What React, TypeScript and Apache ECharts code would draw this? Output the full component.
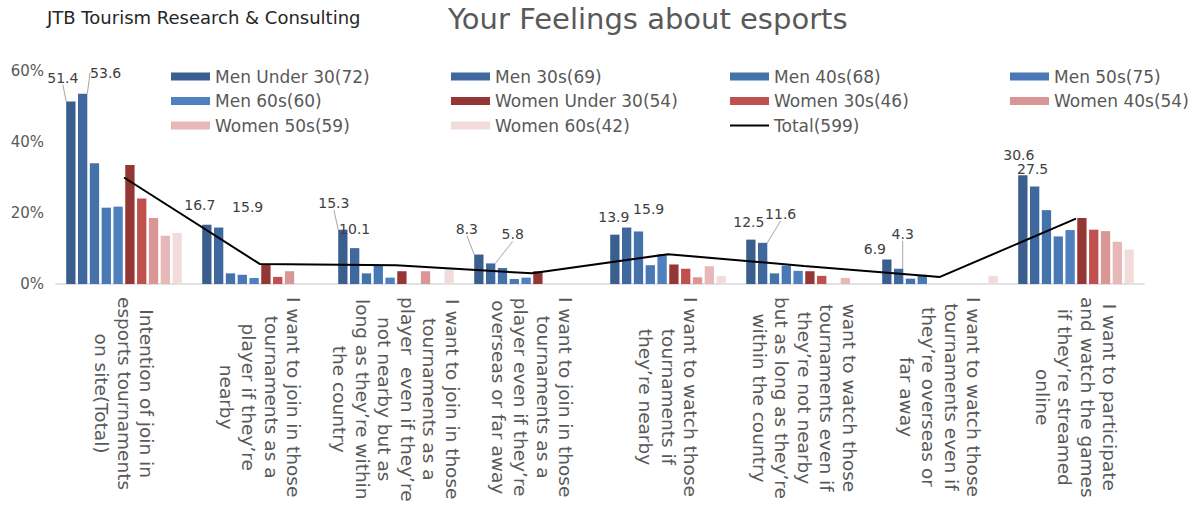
import React, { useEffect, useRef } from "react";
import * as echarts from "echarts";

const FONT = "DejaVu Sans";

const categories = [
  "Intention of join in\nesports tournaments\non site(Total)",
  "I want to join in those\ntournaments as a\nplayer if they’re\nnearby",
  "I want to join in those\ntournaments as a\nplayer  even if they’re\nnot nearby but as\nlong as they’re within\nthe country",
  "I want to join in those\ntournaments as a\nplayer even if they’re\noverseas or far away",
  "I want to watch those\ntournaments if\nthey’re nearby",
  "want to watch those\ntournaments even if\nthey’re not nearby\nbut as long as they’re\nwithin the country",
  "I want to watch those\ntournaments even if\nthey’re overseas or\nfar away",
  "I want to participate\nand watch the games\nif they’re streamed\nonline",
];

const seriesNames = [
  "Men Under 30(72)",
  "Men 30s(69)",
  "Men 40s(68)",
  "Men 50s(75)",
  "Men 60s(60)",
  "Women Under 30(54)",
  "Women 30s(46)",
  "Women 40s(54)",
  "Women 50s(59)",
  "Women 60s(42)",
];
const totalName = "Total(599)";

// Percent of each respondent group, one value per category
const menUnder30 = [51.4, 16.7, 15.3, 8.3, 13.9, 12.5, 6.9, 30.6];
const men30s = [53.6, 15.9, 10.1, 5.8, 15.9, 11.6, 4.3, 27.5];
const men40s = [34.0, 3.0, 3.0, 4.5, 14.8, 3.0, 1.5, 20.8];
const men50s = [21.5, 2.6, 5.2, 1.4, 5.3, 5.2, 2.6, 13.4];
const men60s = [21.8, 1.7, 1.8, 1.8, 8.4, 3.7, 0, 15.2];
const womenUnder30 = [33.5, 5.5, 3.6, 3.6, 5.5, 3.6, 0, 18.6];
const women30s = [24.1, 2.0, 0, 0, 4.3, 2.3, 0, 15.3];
const women40s = [18.6, 3.6, 3.6, 0, 1.9, 0, 0, 14.9];
const women50s = [13.6, 0, 0, 0, 5.0, 1.7, 0, 11.9];
const women60s = [14.4, 0, 4.6, 0, 2.3, 0, 2.3, 9.7];
const totalValues = [30.0, 5.6, 5.3, 3.0, 8.4, 5.1, 2.0, 18.4];

const yMax = 60;
const yStep = 20;

const barValues = [
  menUnder30,
  men30s,
  men40s,
  men50s,
  men60s,
  womenUnder30,
  women30s,
  women40s,
  women50s,
  women60s,
];

const barColors = [
  "#3a5f8e",
  "#3f689f",
  "#4472ab",
  "#4879b6",
  "#4e81bd",
  "#943634",
  "#c0504d",
  "#d99694",
  "#e6b9b8",
  "#f2dcdb",
];

// Value labels are drawn for the two youngest men's groups only;
// each label is nudged (dx, dy) and some get a grey leader line.
const labelNudge = [
  [[-8, -12], [-7, -8], [-9, -15], [-12, -14], [-1, -6], [-2, -6], [-12, 1], [-4, -8]],
  [[23, -9], [29, -9], [0, -7], [22, -17], [22, -7], [18, -17], [4, -23], [-2, -5]],
];
const leaderLine = [
  [1, 0, 1, 1, 0, 0, 0, 0],
  [1, 0, 0, 1, 0, 1, 1, 0],
];

const legendColumns = [171, 451, 730, 1010];

function buildOption() {
  const bars = barValues.map((vals, s) => {
    const labelled = s < 2;
    return {
      type: "bar",
      name: seriesNames[s],
      barGap: "27%",
      barCategoryGap: "15%",
      itemStyle: { color: barColors[s] },
      data: vals.map((v, i) =>
        labelled ? { value: v, labelLine: { show: !!leaderLine[s][i] } } : v
      ),
      label: labelled
        ? {
            show: true,
            position: "top",
            distance: 5,
            color: "#404040",
            fontSize: 14,
            fontFamily: FONT,
            formatter: (p: any) => Number(p.value).toFixed(1),
          }
        : { show: false },
      labelLayout: labelled
        ? (p: any) => ({
            dx: labelNudge[s][p.dataIndex][0],
            dy: labelNudge[s][p.dataIndex][1],
          })
        : undefined,
      labelLine: labelled
        ? { show: false, lineStyle: { color: "#a6a6a6", width: 1 } }
        : undefined,
      z: 2,
    };
  });

  const legendOrder = [...seriesNames, totalName];
  const legends = legendColumns.map((left, c) => ({
    orient: "vertical",
    left,
    top: 68,
    padding: 0,
    itemWidth: 39,
    itemHeight: 8,
    itemGap: 7.5,
    symbolKeepAspect: true,
    selectedMode: false,
    textStyle: { fontSize: 17, color: "#595959", fontFamily: FONT },
    data: legendOrder
      .filter((_, i) => i % 4 === c)
      .map((name) =>
        name === totalName
          ? { name, icon: "path://M0,0H39V2H0Z" }
          : { name, icon: "rect" }
      ),
  }));

  return {
    animation: false,
    backgroundColor: "#ffffff",
    title: [
      {
        text: "JTB Tourism Research & Consulting",
        left: 47,
        top: 8,
        padding: 0,
        textStyle: { fontSize: 18, fontWeight: "normal", color: "#262626", fontFamily: FONT },
      },
      {
        text: "Your Feelings about esports",
        left: 448,
        top: 4,
        padding: 0,
        textStyle: { fontSize: 29, fontWeight: "normal", color: "#595959", fontFamily: FONT },
      },
    ],
    legend: legends,
    grid: { left: 56, right: 58, top: 71, bottom: 231, containLabel: false },
    xAxis: {
      type: "category",
      data: categories,
      axisTick: { show: false },
      axisLine: { lineStyle: { color: "#d9d9d9", width: 1.5 } },
      axisLabel: {
        interval: 0,
        rotate: -90,
        margin: 13,
        formatter: (v: string) =>
          v
            .split("\n")
            .map((line) => `{c|${line}}`)
            .join("\n"),
        rich: {
          c: {
            align: "center",
            lineHeight: 22.5,
            fontSize: 18.5,
            fontFamily: FONT,
            color: "#595959",
          },
        },
      },
    },
    yAxis: {
      type: "value",
      min: 0,
      max: yMax,
      interval: yStep,
      splitLine: { show: false },
      axisLine: { show: false },
      axisTick: { show: false },
      axisLabel: {
        margin: 12,
        fontSize: 15,
        color: "#595959",
        fontFamily: FONT,
        formatter: "{value}%",
      },
    },
    series: [
      ...bars,
      {
        type: "line",
        name: totalName,
        data: totalValues,
        symbol: "none",
        lineStyle: { color: "#000000", width: 2 },
        itemStyle: { color: "#000000" },
        z: 5,
      },
    ],
  };
}

export default function App() {
  const ref = useRef<HTMLDivElement>(null);
  useEffect(() => {
    if (!ref.current) return;
    const chart = echarts.init(ref.current, null, { renderer: "svg" });
    chart.setOption(buildOption() as any);
    return () => chart.dispose();
  }, []);
  return (
    <div
      ref={ref}
      style={{ position: "fixed", left: 0, top: 0, width: 1202, height: 515, background: "#fff" }}
    />
  );
}
